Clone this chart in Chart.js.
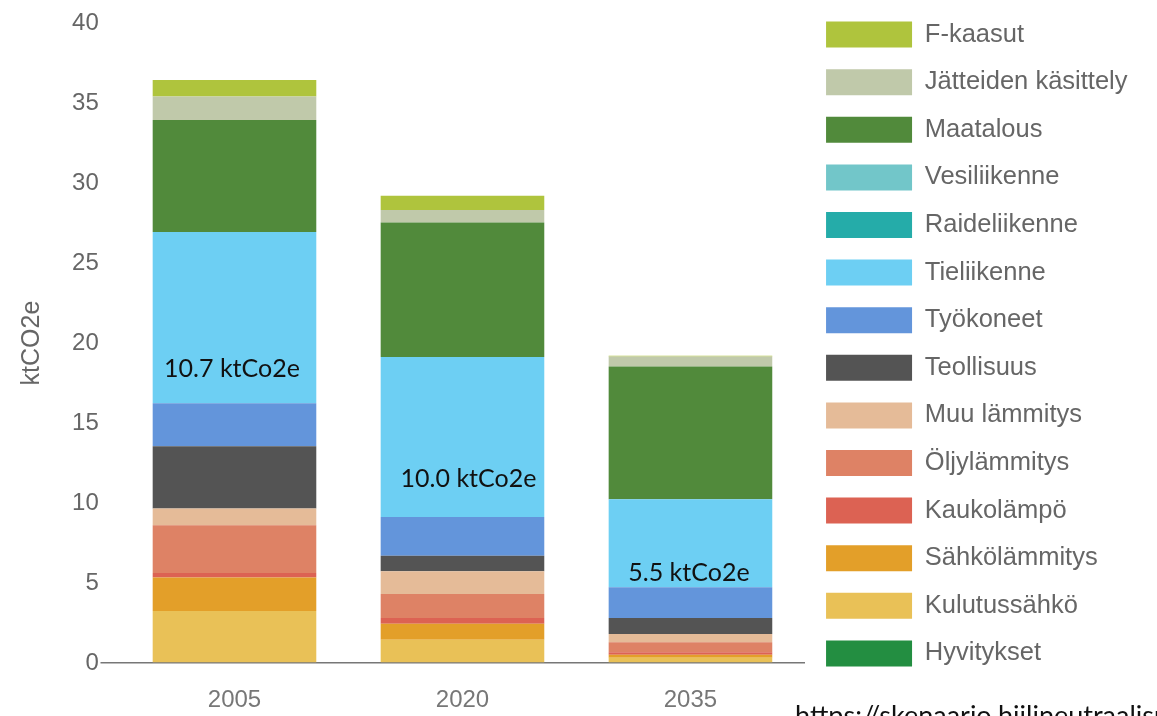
<!DOCTYPE html>
<html>
<head>
<meta charset="utf-8">
<script src="https://cdn.jsdelivr.net/npm/chart.js@4.4.1/dist/chart.umd.min.js"></script>
<style>
  html, body { margin: 0; padding: 0; background: #fff; }
  #wrap { position: relative; width: 1157px; height: 716px; }
</style>
</head>
<body>
<div id="wrap"><canvas id="c"></canvas></div>
<script>
// ---- data ----
const years = ['2005', '2020', '2035'];
const hyvitykset    = [0, 0, 0];
const kulutussahko  = [3.25, 1.46, 0.33];
const sahkolammitys = [2.09, 1.00, 0.19];
const kaukolampo    = [0.29, 0.36, 0.15];
const oljylammitys  = [2.98, 1.50, 0.63];
const muuLammitys   = [1.04, 1.41, 0.52];
const teollisuus    = [3.90, 0.98, 1.00];
const tyokoneet     = [2.69, 2.42, 1.91];
const tieliikenne   = [10.7, 10.0, 5.5];
const raideliikenne = [0, 0, 0];
const vesiliikenne  = [0, 0, 0];
const maatalous     = [7.00, 8.40, 8.30];
const jatteet       = [1.46, 0.79, 0.62];
const fKaasut       = [1.04, 0.88, 0.05];
const yTicks = [0, 5, 10, 15, 20, 25, 30, 35, 40];
const roadLabels = ['10.7 ktCo2e', '10.0 ktCo2e', '5.5 ktCo2e'];
const yTitle = 'ktCO2e';
const sourceText = 'https://skenaario.hiilineutraalisuomi.fi/';

const HELV = '"Liberation Sans", Arial, Helvetica, sans-serif';

const series = [
  ['Hyvitykset', hyvitykset, '#238e41'],
  ['Kulutussähkö', kulutussahko, '#e9c157'],
  ['Sähkölämmitys', sahkolammitys, '#e39f29'],
  ['Kaukolämpö', kaukolampo, '#dc6253'],
  ['Öljylämmitys', oljylammitys, '#de8265'],
  ['Muu lämmitys', muuLammitys, '#e5bb98'],
  ['Teollisuus', teollisuus, '#545454'],
  ['Työkoneet', tyokoneet, '#6395db'],
  ['Tieliikenne', tieliikenne, '#6dcff3'],
  ['Raideliikenne', raideliikenne, '#25aca9'],
  ['Vesiliikenne', vesiliikenne, '#72c6c9'],
  ['Maatalous', maatalous, '#518a3b'],
  ['Jätteiden käsittely', jatteet, '#c0c9aa'],
  ['F-kaasut', fKaasut, '#afc43d']
];

const datasets = series.map(([label, data, color]) => ({
  label, data, backgroundColor: color, borderWidth: 0,
  categoryPercentage: 1.0, barPercentage: 0.7176
}));

const extras = {
  id: 'extras',
  afterDraw(chart, args, opts) {
    const ctx = chart.ctx;
    const ca = chart.chartArea;
    const roadIdx = series.findIndex(s => s[0] === 'Tieliikenne');
    const meta = chart.getDatasetMeta(roadIdx);
    ctx.save();
    ctx.fillStyle = '#111';
    ctx.font = '25px Lato, "Open Sans", sans-serif';
    ctx.textAlign = 'center';
    ctx.textBaseline = 'alphabetic';
    meta.data.forEach((bar, i) => {
      const bottom = Math.max(bar.y, bar.base);
      ctx.fillText(roadLabels[i], bar.x + opts.dx[i], bottom + opts.dy[i]);
    });
    ctx.restore();
    ctx.save();
    ctx.fillStyle = '#666';
    ctx.font = '25px ' + HELV;
    ctx.textAlign = 'center';
    ctx.textBaseline = 'middle';
    ctx.translate(opts.titleX, ca.top + (ca.bottom - ca.top) * opts.titleFrac);
    ctx.rotate(-Math.PI / 2);
    ctx.fillText(yTitle, 0, 0);
    ctx.restore();
    ctx.save();
    ctx.fillStyle = '#111';
    ctx.font = '27px Lato, "Open Sans", sans-serif';
    ctx.textAlign = 'left';
    ctx.textBaseline = 'alphabetic';
    ctx.fillText(sourceText, opts.srcX, opts.srcY);
    ctx.restore();
  }
};

new Chart(document.getElementById('c'), {
  type: 'bar',
  data: { labels: years, datasets },
  plugins: [extras],
  options: {
    responsive: true,
    maintainAspectRatio: false,
    animation: false,
    devicePixelRatio: 1,
    layout: { padding: { left: 70.3, right: 19.5, top: 0, bottom: 1.6 } },
    plugins: {
      tooltip: { enabled: false },
      legend: {
        position: 'right',
        align: 'start',
        reverse: true,
        maxWidth: 500,
        labels: {
          boxWidth: 86,
          boxHeight: 26,
          padding: 21.6,
          color: '#666',
          font: { size: 25.5, family: HELV }
        }
      },
      extras: { dx: [-2.5, 6, -1.5], dy: [-26, -30, -6], titleX: 32, titleFrac: 0.5, srcX: 795, srcY: 725 }
    },
    scales: {
      x: {
        stacked: true,
        z: 1,
        grid: { display: false, drawTicks: true, tickLength: 22.6 },
        border: { display: true, color: '#777', width: 1.5 },
        ticks: { color: '#777', font: { size: 24, family: HELV }, padding: 0 }
      },
      xTop: {
        type: 'category',
        position: 'top',
        display: true,
        grid: { display: false, drawTicks: false, tickLength: 0 },
        border: { display: false },
        ticks: { display: false },
        afterFit(s) { s.height = 23; }
      },
      y: {
        stacked: true,
        min: 0,
        max: 40,
        afterBuildTicks(s) { s.ticks = yTicks.map(v => ({ value: v })); },
        ticks: { color: '#666', font: { size: 24, family: HELV }, padding: 1.75 },
        grid: {
          drawOnChartArea: false,
          drawTicks: true,
          tickLength: 20,
          lineWidth: 1.5,
          color: c => (c.tick && c.tick.value === 0) ? '#777' : 'rgba(0,0,0,0)'
        },
        border: { display: false }
      }
    }
  }
});
</script>
</body>
</html>
